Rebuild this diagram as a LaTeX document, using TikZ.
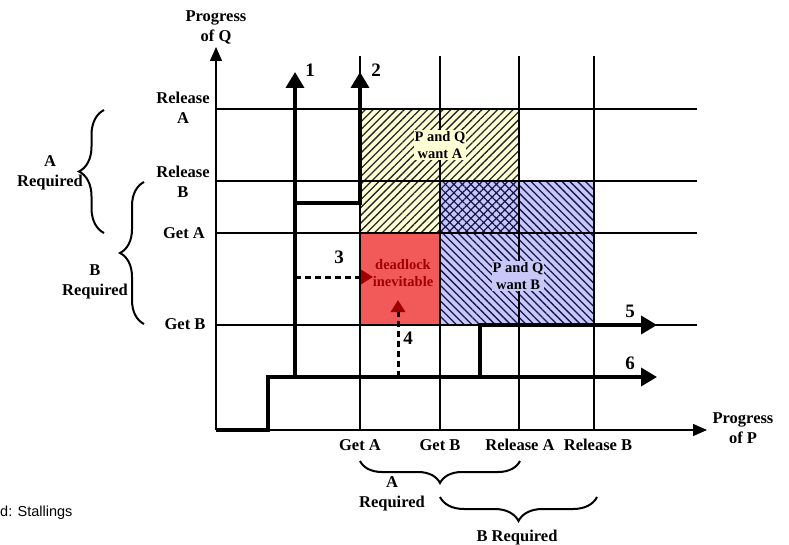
\documentclass[tikz,border=0pt]{standalone}
\usepackage{fontspec}
\setmainfont{Liberation Serif}
\newfontfamily\arialf{Liberation Sans}
\usetikzlibrary{arrows.meta,patterns.meta,decorations.pathreplacing}
\definecolor{ybg}{HTML}{FFFFD6}
\definecolor{bbg}{HTML}{C8C8F8}
\definecolor{navy}{HTML}{14144F}
\definecolor{redbg}{HTML}{F25A5A}
\definecolor{dred}{HTML}{A00000}
\begin{document}
\begin{tikzpicture}[x=1pt,y=-1pt,
  gridline/.style={line width=1.3pt,black},
  axis/.style={line width=1.3pt,black,-{Triangle[length=14pt,width=12pt]}},
  prog/.style={line width=3.6pt,black,line join=miter,-{Triangle[length=16pt,width=18pt]}},
  dprog/.style={line width=3pt,black,dash pattern=on 6pt off 4pt,-{Triangle[length=12pt,width=14pt,color=dred]}},
  lbl/.style={font=\fontsize{16.5}{20}\selectfont\bfseries,align=center,inner sep=0pt},
  num/.style={font=\fontsize{19}{20}\selectfont\bfseries,inner sep=0pt},
  inlbl/.style={font=\fontsize{14.5}{17}\selectfont\bfseries,align=center,inner sep=1pt},
  curly/.style={line width=2pt,decorate,decoration={brace,amplitude=#1}}
]
\useasboundingbox (0,0) rectangle (789,545);

% regions
\fill[ybg] (360,109) -- (519,109) -- (519,181) -- (440,181) -- (440,233) -- (360,233) -- cycle;
\fill[pattern={Lines[angle=45,distance=5.5pt,line width=1.3pt]},pattern color=black!85]
  (360,109) -- (519,109) -- (519,181) -- (440,181) -- (440,233) -- (360,233) -- cycle;
\fill[bbg] (519,181) -- (594,181) -- (594,325) -- (440,325) -- (440,233) -- (519,233) -- cycle;
\fill[pattern={Lines[angle=-45,distance=5.5pt,line width=1.3pt]},pattern color=navy]
  (519,181) -- (594,181) -- (594,325) -- (440,325) -- (440,233) -- (519,233) -- cycle;
\fill[bbg] (440,181) rectangle (519,233);
\fill[pattern={Hatch[angle=45,distance=6pt,line width=1.2pt]},pattern color=navy] (440,181) rectangle (519,233);
\fill[redbg] (360,233) rectangle (440,325);

% grid
\foreach \y in {109,181,233,325} \draw[gridline] (216,\y) -- (697,\y);
\foreach \x in {360,440,519,594} \draw[gridline] (\x,56) -- (\x,430);

% axes
\coordinate (O) at (216,430);
\coordinate (ytip) at (216,47);
\coordinate (xtip) at (707,430);
\draw[axis] (O) -- (ytip);
\draw[axis] (O) -- (xtip);
\node[lbl] (pq) at (216,27) {Progress\\of Q};
\node[lbl] (pp) at (743,428) {Progress\\of P};

% axis labels
\node[lbl] (relA) at (183,108) {Release\\A};
\node[lbl] (relB) at (183,182) {Release\\B};
\node[lbl] (getA) at (184,233) {Get A};
\node[lbl] (getB) at (185,324) {Get B};
\node[lbl] (xgA) at (360,445) {Get A};
\node[lbl] (xgB) at (440,445) {Get B};
\node[lbl] (xrA) at (520,445) {Release A};
\node[lbl] (xrB) at (598,445) {Release B};

% region labels
\node[inlbl,fill=ybg] (wantA) at (440,145) {P and Q\\want A};
\node[inlbl,fill=bbg] (wantB) at (518,276) {P and Q\\want B};
\node[inlbl,text=dred,font=\fontsize{14.5}{17}\selectfont\bfseries] (dl) at (403,273) {deadlock\\inevitable};

% paths
\coordinate (s0) at (216,430);
\coordinate (s1) at (268,430);
\coordinate (s2) at (268,377);
\coordinate (s3) at (295,377);
\coordinate (s4) at (295,203);
\coordinate (s5) at (360,203);
\coordinate (t1) at (295,72);
\coordinate (t2) at (360,72);
\coordinate (t6) at (657,377);
\coordinate (p5a) at (480,377);
\coordinate (p5b) at (480,325);
\coordinate (t5) at (657,325);
\coordinate (p3a) at (295,277);
\coordinate (t3) at (373,277);
\coordinate (p4a) at (398,377);
\coordinate (t4) at (398,300);
\draw[prog] (s0) -- (s1) -- (s2) -- (s3) -- (s4) -- (t1);
\draw[prog] (s4) -- (s5) -- (t2);
\draw[prog] (s3) -- (t6);
\draw[prog] (p5a) -- (p5b) -- (t5);
\draw[dprog] (p3a) -- (t3);
\draw[dprog] (p4a) -- (t4);

\node[num] (n1) at (310,70) {1};
\node[num] (n2) at (376,70) {2};
\node[num] (n3) at (339,257) {3};
\node[num] (n4) at (408,338) {4};
\node[num] (n5) at (630,311) {5};
\node[num] (n6) at (630,363) {6};

% braces
\coordinate (bAl1) at (104,233);
\coordinate (bAl2) at (104,110);
\draw[curly=25pt] (bAl1) -- (bAl2);
\node[lbl] (reqAl) at (50,173) {A\\Required};
\coordinate (bBl1) at (144,324);
\coordinate (bBl2) at (144,182);
\draw[curly=24pt] (bBl1) -- (bBl2);
\node[lbl] (reqBl) at (95,282) {B\\Required};
\coordinate (bAb1) at (520,461);
\coordinate (bAb2) at (360,461);
\draw[curly=22pt] (bAb1) -- (bAb2);
\node[lbl] (reqAb) at (392,494) {A\\Required};
\coordinate (bBb1) at (597,497);
\coordinate (bBb2) at (440,497);
\draw[curly=24pt] (bBb1) -- (bBb2);
\node[lbl] (reqBb) at (517,538) {B Required};

\node[anchor=west,inner sep=0pt,font=\arialf\fontsize{14.5}{17}\selectfont] (src) at (0,513) {d: Stallings};
\end{tikzpicture}
\end{document}
